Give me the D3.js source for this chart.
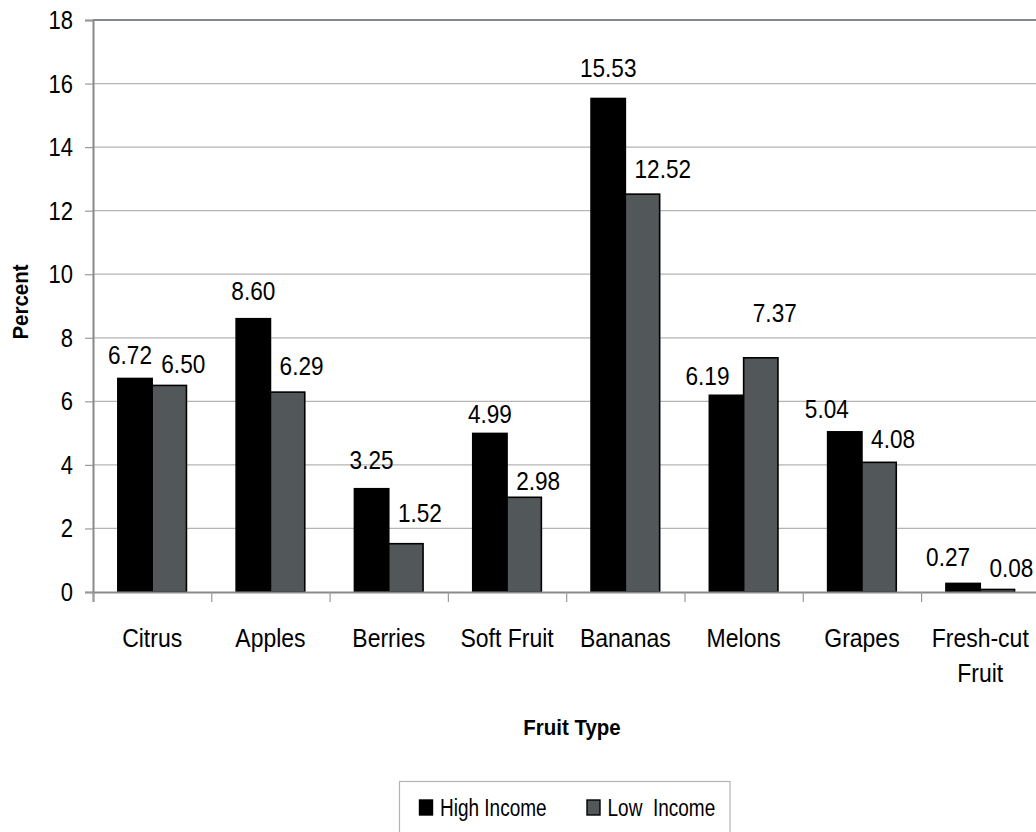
<!DOCTYPE html>
<html>
<head>
<meta charset="utf-8">
<script src="https://cdn.jsdelivr.net/npm/d3@7/dist/d3.min.js"></script>
<style>
  html, body { margin: 0; padding: 0; background: #fff; }
  svg { display: block; }
  text { font-family: "Liberation Sans", Arial, sans-serif; fill: #000; }
</style>
</head>
<body>
<svg id="chart" width="1036" height="832"></svg>
<script>
// Share of fruit purchases by fruit type, high vs. low income households
const categories = ["Citrus", "Apples", "Berries", "Soft Fruit", "Bananas", "Melons", "Grapes", "Fresh-cut Fruit"];
const categoryLines = [["Citrus"], ["Apples"], ["Berries"], ["Soft Fruit"], ["Bananas"], ["Melons"], ["Grapes"], ["Fresh-cut", "Fruit"]];
const highIncome = [6.72, 8.60, 3.25, 4.99, 15.53, 6.19, 5.04, 0.27];
const lowIncome  = [6.50, 6.29, 1.52, 2.98, 12.52, 7.37, 4.08, 0.08];
const seriesNames = ["High Income", "Low\u00a0 Income"];
const yTicks = [0, 2, 4, 6, 8, 10, 12, 14, 16, 18];

const series = [
  { name: seriesNames[0], values: highIncome, fill: "#000000" },
  { name: seriesNames[1], values: lowIncome,  fill: "#52575a" }
];

// hand-placed value label offsets [dx, dy] so labels clear neighbouring bars
const labelNudge = [
  [[-5, 0], [0, 1.6]],
  [[0, -5], [0, -3.4]],
  [[0, -6], [0, -7.7]],
  [[0, 4], [0, 6.3]],
  [[0, -7], [0, -1.7]],
  [[-19, 4], [0, -22]],
  [[-18, 0], [0, 0]],
  [[-15, -3.4], [0, 1.2]]
];

const svg = d3.select("#chart");
const plot = { left: 93, top: 20, bottom: 592, bandWidth: 118.3 };
plot.right = plot.left + plot.bandWidth * categories.length;

const x = d3.scaleBand().domain(categories).range([plot.left, plot.right]).paddingInner(0).paddingOuter(0);
const y = d3.scaleLinear().domain([0, 18]).range([plot.bottom, plot.top]);
const groupFrac = 0.58;
const sub = d3.scaleBand().domain(d3.range(series.length))
  .range([0, x.bandwidth() * groupFrac]);
const groupOffset = x.bandwidth() * (1 - groupFrac) / 2;

// text drawn at (px,py) with a vertical stretch
function label(g, str, px, py, opts) {
  const o = Object.assign({ size: 23, sy: 1.15, anchor: "middle", weight: "normal", rotate: 0 }, opts || {});
  return g.append("text")
    .attr("transform", `translate(${px},${py}) rotate(${o.rotate}) scale(1,${o.sy})`)
    .attr("text-anchor", o.anchor)
    .attr("font-size", o.size)
    .attr("font-weight", o.weight)
    .text(str);
}

// gridlines
svg.append("g")
  .selectAll("line")
  .data(yTicks.filter(t => t > 0 && t < 18))
  .join("line")
  .attr("x1", plot.left).attr("x2", plot.right)
  .attr("y1", d => y(d)).attr("y2", d => y(d))
  .attr("stroke", "#b4b4b4").attr("stroke-width", 1.2);

// top border of plot area
svg.append("line")
  .attr("x1", plot.left).attr("x2", plot.right)
  .attr("y1", y(18)).attr("y2", y(18))
  .attr("stroke", "#878a8c").attr("stroke-width", 2);

// y axis
const yAxis = d3.axisLeft(y).tickValues(yTicks).tickSize(8).tickFormat("");
const yg = svg.append("g").attr("transform", `translate(${plot.left},0)`).call(yAxis);
yg.select(".domain").attr("stroke", "#878a8c").attr("stroke-width", 2);
yg.selectAll(".tick line").attr("stroke", "#9a9a9a").attr("stroke-width", 1.2);
yTicks.forEach(t => label(svg, String(t), 73, y(t) + 9, { anchor: "end", size: 22 }));

// bars
const groups = svg.append("g").selectAll("g")
  .data(categories)
  .join("g")
  .attr("transform", d => `translate(${x(d) + groupOffset},0)`);

groups.selectAll("rect")
  .data((d, i) => series.map((s, si) => ({ si, v: s.values[i], fill: s.fill })))
  .join("rect")
  .attr("x", d => sub(d.si))
  .attr("width", sub.bandwidth())
  .attr("y", d => y(d.v))
  .attr("height", d => y(0) - y(d.v))
  .attr("fill", d => d.fill)
  .attr("stroke", "#000")
  .attr("stroke-width", 1.6);

// x axis baseline and ticks
const xAxis = d3.axisBottom(d3.scaleLinear().domain([0, categories.length]).range([plot.left, plot.right]))
  .tickValues(d3.range(categories.length + 1)).tickSize(10).tickFormat("");
const xg = svg.append("g").attr("transform", `translate(0,${plot.bottom})`).call(xAxis);
xg.select(".domain").attr("stroke", "#878a8c").attr("stroke-width", 2);
xg.selectAll(".tick line").attr("stroke", "#9a9a9a").attr("stroke-width", 1.2);

// category labels
categoryLines.forEach((lines, i) => {
  const cx = x(categories[i]) + x.bandwidth() / 2;
  lines.forEach((ln, k) => label(svg, ln, cx, 647 + k * 35));
});

// value labels
const valueFmt = d3.format(".2f");
categories.forEach((c, i) => {
  const gx = x(c) + groupOffset;
  series.forEach((s, si) => {
    const bx = gx + sub(si) + sub.bandwidth() / 2;
    const v = s.values[i];
    const [dx, dy] = labelNudge[i][si];
    if (si === 0) label(svg, valueFmt(v), bx + dx, y(v) - 14 + dy, { size: 22.6 });
    else label(svg, valueFmt(v), bx - 8 + dx, y(v) - 14 + dy, { size: 22.6, anchor: "start" });
  });
});

// axis titles
label(svg, "Fruit Type", 572, 735, { size: 20.5, sy: 1.1, weight: "bold" });
label(svg, "Percent", 28, 302, { size: 20.5, sy: 1.1, weight: "bold", rotate: -90 });

// legend
const lg = svg.append("g");
lg.append("rect")
  .attr("x", 399.5).attr("y", 781.5).attr("width", 330.5).attr("height", 60)
  .attr("fill", "#fff").attr("stroke", "#b4b4b4").attr("stroke-width", 1.2);
const legendX = [419.5, 587];
series.forEach((s, si) => {
  lg.append("rect")
    .attr("x", legendX[si]).attr("y", 800).attr("width", 13).attr("height", 15)
    .attr("fill", s.fill).attr("stroke", "#000").attr("stroke-width", 1.4);
  label(lg, s.name, legendX[si] + 20.5, 816, { size: 19, sy: 1.22, anchor: "start" });
});
</script>
</body>
</html>
